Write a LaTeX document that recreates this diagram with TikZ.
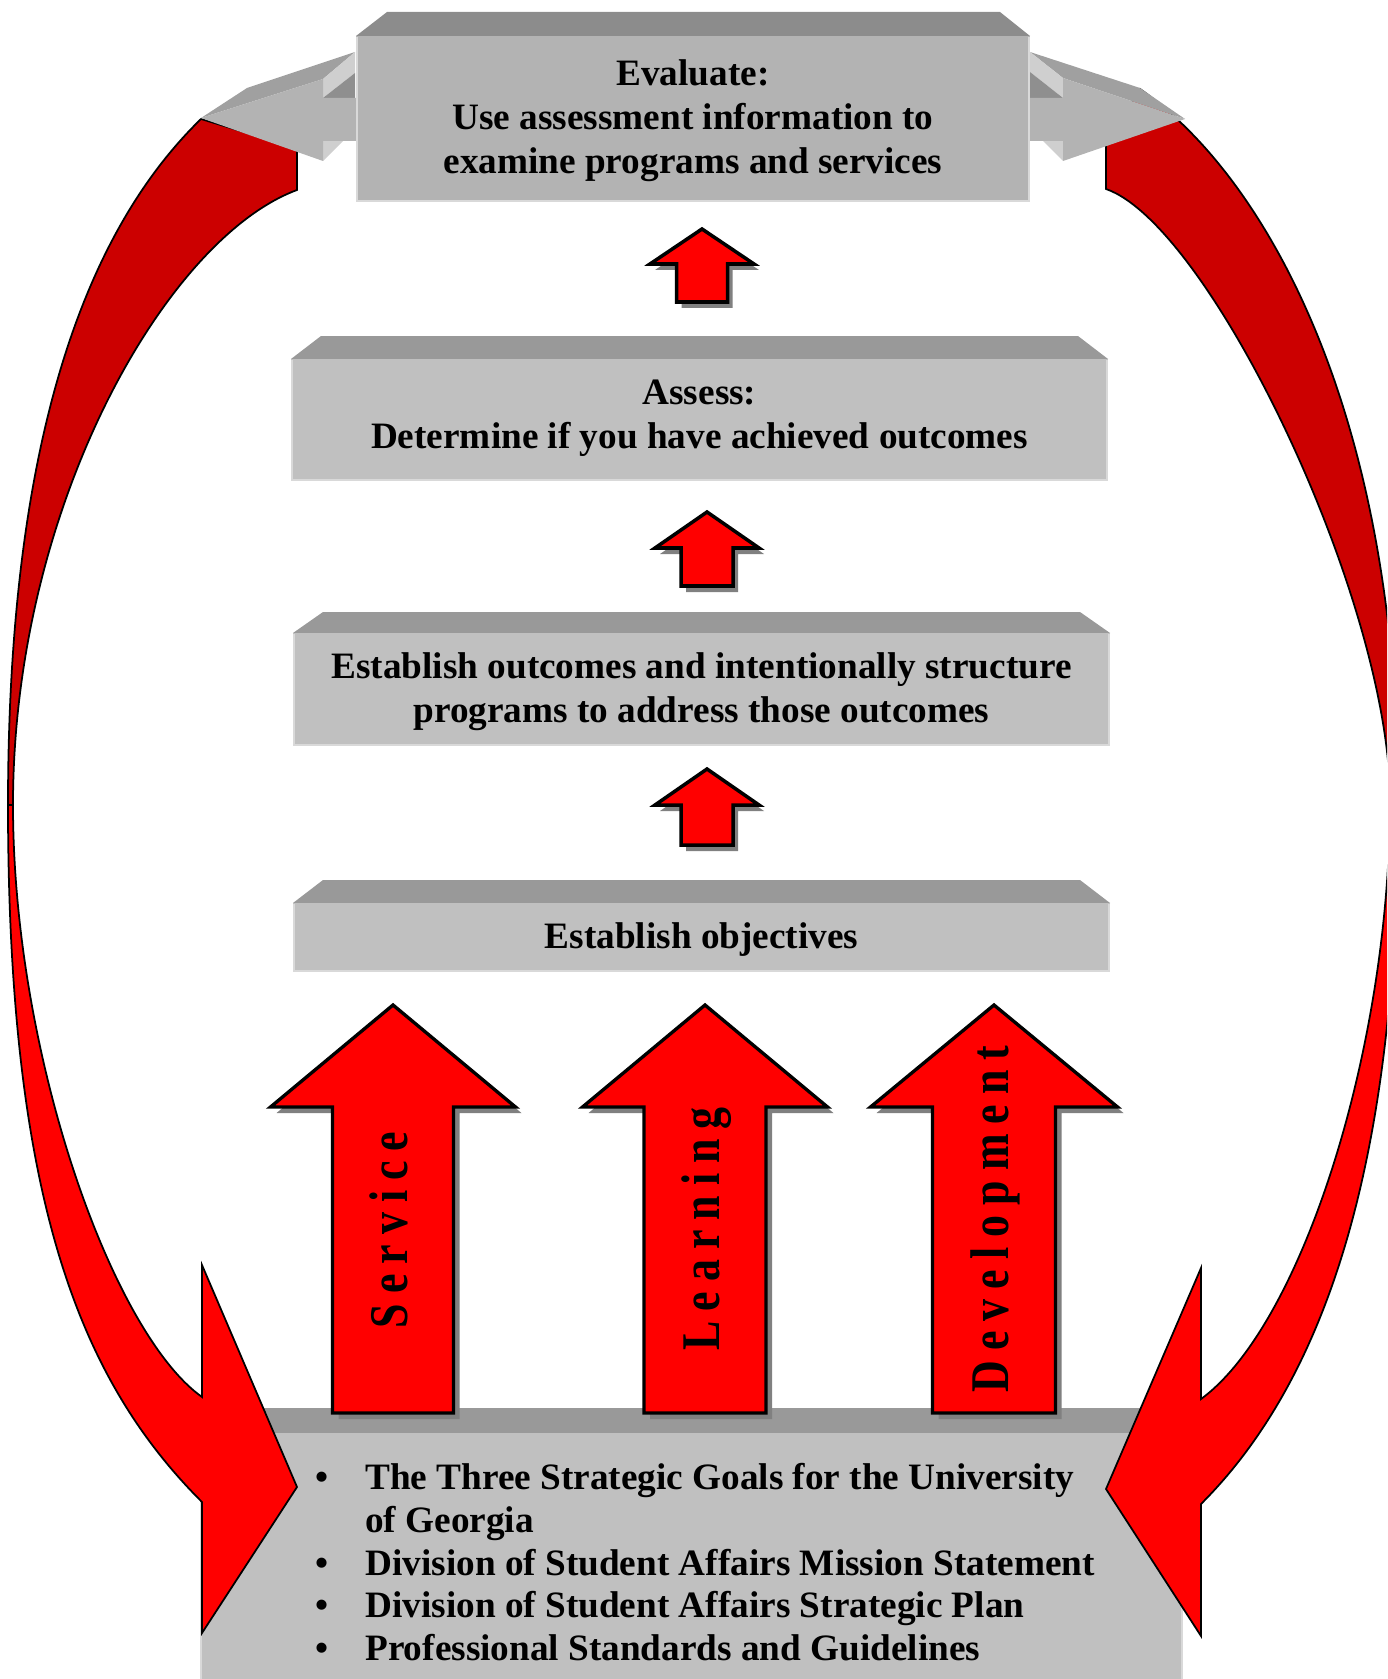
\documentclass[tikz,border=0pt]{standalone}
\usepackage{fontspec}
\setmainfont{Liberation Serif}
\usepackage{graphicx}
\definecolor{boxfront}{HTML}{C0C0C0}
\definecolor{boxtop}{HTML}{999999}
\definecolor{evalfront}{HTML}{B3B3B3}
\definecolor{evaltop}{HTML}{8C8C8C}
\definecolor{edgelight}{HTML}{D9D9D9}
\definecolor{brightred}{HTML}{FF0000}
\definecolor{darkred}{HTML}{CC0000}
\definecolor{shadowgray}{HTML}{808080}
\definecolor{arrtop}{HTML}{A0A0A0}
\definecolor{arrlight}{HTML}{CFCFCF}
\definecolor{arrdark}{HTML}{8F8F8F}
\makeatletter
\def\spreadword#1{\spread@a#1\relax}
\def\spread@a#1{\ifx#1\relax\unkern\else#1\kern0.2cm\expandafter\spread@a\fi}
\makeatother
\newcommand\arrowtext[1]{\scalebox{1}[1.24]{\fontsize{25}{25}\selectfont\bfseries\spreadword{#1}}}
% block arrow pointing up: cx, tip y, head base y, bottom y, half head width, half shaft width
\newcommand\blockuppath[6]{(#1,#2) -- (#1+#5,#3) -- (#1+#6,#3) -- (#1+#6,#4) -- (#1-#6,#4) -- (#1-#6,#3) -- (#1-#5,#3) -- cycle}
\tikzset{
  boxtext/.style={font=\fontsize{21.2}{25}\selectfont\bfseries, align=center, inner sep=0pt},
  bodytext/.style={font=\fontsize{21.2}{25}\selectfont\bfseries, inner sep=0pt, anchor=base west},
  redline/.style={draw=black, line width=1pt, line join=miter},
  bigarrow/.style={draw=black, fill=brightred, line width=1.9pt, line join=miter},
  smallarrow/.style={draw=black, fill=brightred, line width=2pt, line join=miter},
  edgehl/.style={draw=edgelight, line width=1.2pt},
}
\begin{document}
\begin{tikzpicture}[x=0.02cm,y=-0.02cm]
\useasboundingbox (0,0) rectangle (1387,1679);
\clip (0,0) rectangle (1387,1679);

% ---------- bottom box ----------
\fill[boxtop] (200,1433) -- (231,1408) -- (1152,1408) -- (1183,1433) -- cycle;
\fill[boxfront] (200,1433) rectangle (1183,1700);
\draw[edgehl] (201,1700) -- (201,1434) (1182,1434) -- (1182,1700);

% ---------- middle boxes ----------
\fill[boxtop] (291,359) -- (321,336) -- (1078,336) -- (1108,359) -- cycle;
\fill[boxfront] (291,359) rectangle (1108,481);
\draw[edgehl] (292,360) -- (292,480) -- (1107,480) -- (1107,360);

\fill[boxtop] (293,633) -- (323,612) -- (1080,612) -- (1110,633) -- cycle;
\fill[boxfront] (293,633) rectangle (1110,746);
\draw[edgehl] (294,634) -- (294,745) -- (1109,745) -- (1109,634);

\fill[boxtop] (293,903) -- (323,880) -- (1080,880) -- (1110,903) -- cycle;
\fill[boxfront] (293,903) rectangle (1110,972);
\draw[edgehl] (294,904) -- (294,971) -- (1109,971) -- (1109,904);

\node[boxtext] (assess) at (699.5,418) {Assess:\\Determine if you have achieved outcomes};
\node[boxtext] (outcomes) at (701.5,691.5) {Establish outcomes and intentionally structure\\programs to address those outcomes};
\node[boxtext] (objectives) at (701.5,939.5) {Establish objectives};

% ---------- small arrows ----------
\fill[shadowgray, shift={(5,6)}] \blockuppath{702}{229}{264}{302}{52}{25.5};
\draw[smallarrow] \blockuppath{702}{229}{264}{302}{52}{25.5};
\fill[shadowgray, shift={(5,6)}] \blockuppath{707}{512}{548}{586}{52}{26};
\draw[smallarrow] \blockuppath{707}{512}{548}{586}{52}{26};
\fill[shadowgray, shift={(5,6)}] \blockuppath{707}{769}{805}{845}{52}{26};
\draw[smallarrow] \blockuppath{707}{769}{805}{845}{52}{26};

% ---------- curved red arrows ----------
\filldraw[fill=darkred, redline] (8,805) .. controls (8,425) and (92,225) .. (201,119) -- (297,148) -- (297,190) .. controls (167,238) and (13,505) .. (13,805) -- cycle;
\filldraw[fill=brightred, redline] (8,805) .. controls (8,1205) and (82,1382) .. (202,1502) -- (202,1633) -- (297,1487) -- (202,1265) -- (202,1397) .. controls (112,1333) and (13,1055) .. (13,805) -- cycle;
\filldraw[fill=darkred, redline] (1398,800) .. controls (1398,420) and (1270,180) .. (1140,89) -- (1106,140) -- (1106,189) .. controls (1210,225) and (1390,600) .. (1390,800) -- cycle;
\filldraw[fill=brightred, redline] (1398,800) .. controls (1398,1150) and (1331,1374) .. (1201,1504) -- (1201,1636) -- (1106,1489) -- (1201,1268) -- (1201,1399) .. controls (1301,1326) and (1390,1050) .. (1390,800) -- cycle;

% ---------- big up arrows ----------
\fill[shadowgray, shift={(6,6)}] \blockuppath{393}{1005}{1107}{1413}{122.5}{60.5};
\draw[bigarrow] \blockuppath{393}{1005}{1107}{1413}{122.5}{60.5};
\fill[shadowgray, shift={(6,6)}] \blockuppath{705}{1005}{1107}{1413}{122.5}{61};
\draw[bigarrow] \blockuppath{705}{1005}{1107}{1413}{122.5}{61};
\fill[shadowgray, shift={(6,6)}] \blockuppath{994}{1005}{1107}{1413}{123.5}{61.5};
\draw[bigarrow] \blockuppath{994}{1005}{1107}{1413}{123.5}{61.5};

\node[rotate=90, anchor=base, inner sep=0pt] (service) at (407,1230) {\arrowtext{Service}};
\node[rotate=90, anchor=base, inner sep=0pt] (learning) at (719,1229) {\arrowtext{Learning}};
\node[rotate=90, anchor=base, inner sep=0pt] (development) at (1008,1219) {\arrowtext{Development}};

% ---------- bottom list ----------
\node[bodytext, anchor=base] (b1) at (322,1489) {\textbullet};
\node[bodytext] (g1) at (365,1489) {The Three Strategic Goals for the University};
\node[bodytext] (g1b) at (365,1532) {of Georgia};
\node[bodytext, anchor=base] (b2) at (322,1575) {\textbullet};
\node[bodytext] (g2) at (365,1575) {Division of Student Affairs Mission Statement};
\node[bodytext, anchor=base] (b3) at (322,1617) {\textbullet};
\node[bodytext] (g3) at (365,1617) {Division of Student Affairs Strategic Plan};
\node[bodytext, anchor=base] (b4) at (322,1660) {\textbullet};
\node[bodytext] (g4) at (365,1660) {Professional Standards and Guidelines};

% ---------- top gray arrows ----------
\fill[arrtop] (201,118) -- (247,88) -- (355,52) -- (323,79) -- cycle;
\fill[arrlight] (323,79) -- (355,52) -- (355,73) -- (323,98) -- cycle;
\fill[arrdark] (323,98) -- (355,73) -- (355,98) -- cycle;
\fill[arrlight] (323,141) -- (343,141) -- (323,161) -- cycle;
\fill[evalfront] (201,118) -- (323,79) -- (323,98) -- (358,98) -- (358,141) -- (323,141) -- (323,161) -- cycle;

\fill[arrtop] (1030,52) -- (1140,88) -- (1185,119) -- (1063,78) -- cycle;
\fill[arrlight] (1030,52) -- (1063,78) -- (1063,98) -- (1030,72) -- cycle;
\fill[arrdark] (1030,72) -- (1063,98) -- (1030,98) -- cycle;
\fill[arrlight] (1043,141) -- (1063,141) -- (1063,161) -- cycle;
\fill[evalfront] (1185,119) -- (1063,78) -- (1063,98) -- (1028,98) -- (1028,141) -- (1063,141) -- (1063,161) -- cycle;

% ---------- Evaluate box ----------
\fill[evaltop] (356,36) -- (387,12) -- (1000,12) -- (1030,36) -- cycle;
\fill[evalfront] (356,36) rectangle (1030,202);
\draw[edgehl] (357,37) -- (357,201) -- (1029,201) -- (1029,37);
\node[boxtext] (evaluate) at (693,121) {Evaluate:\\Use assessment information to\\examine programs and services};
\end{tikzpicture}
\end{document}
